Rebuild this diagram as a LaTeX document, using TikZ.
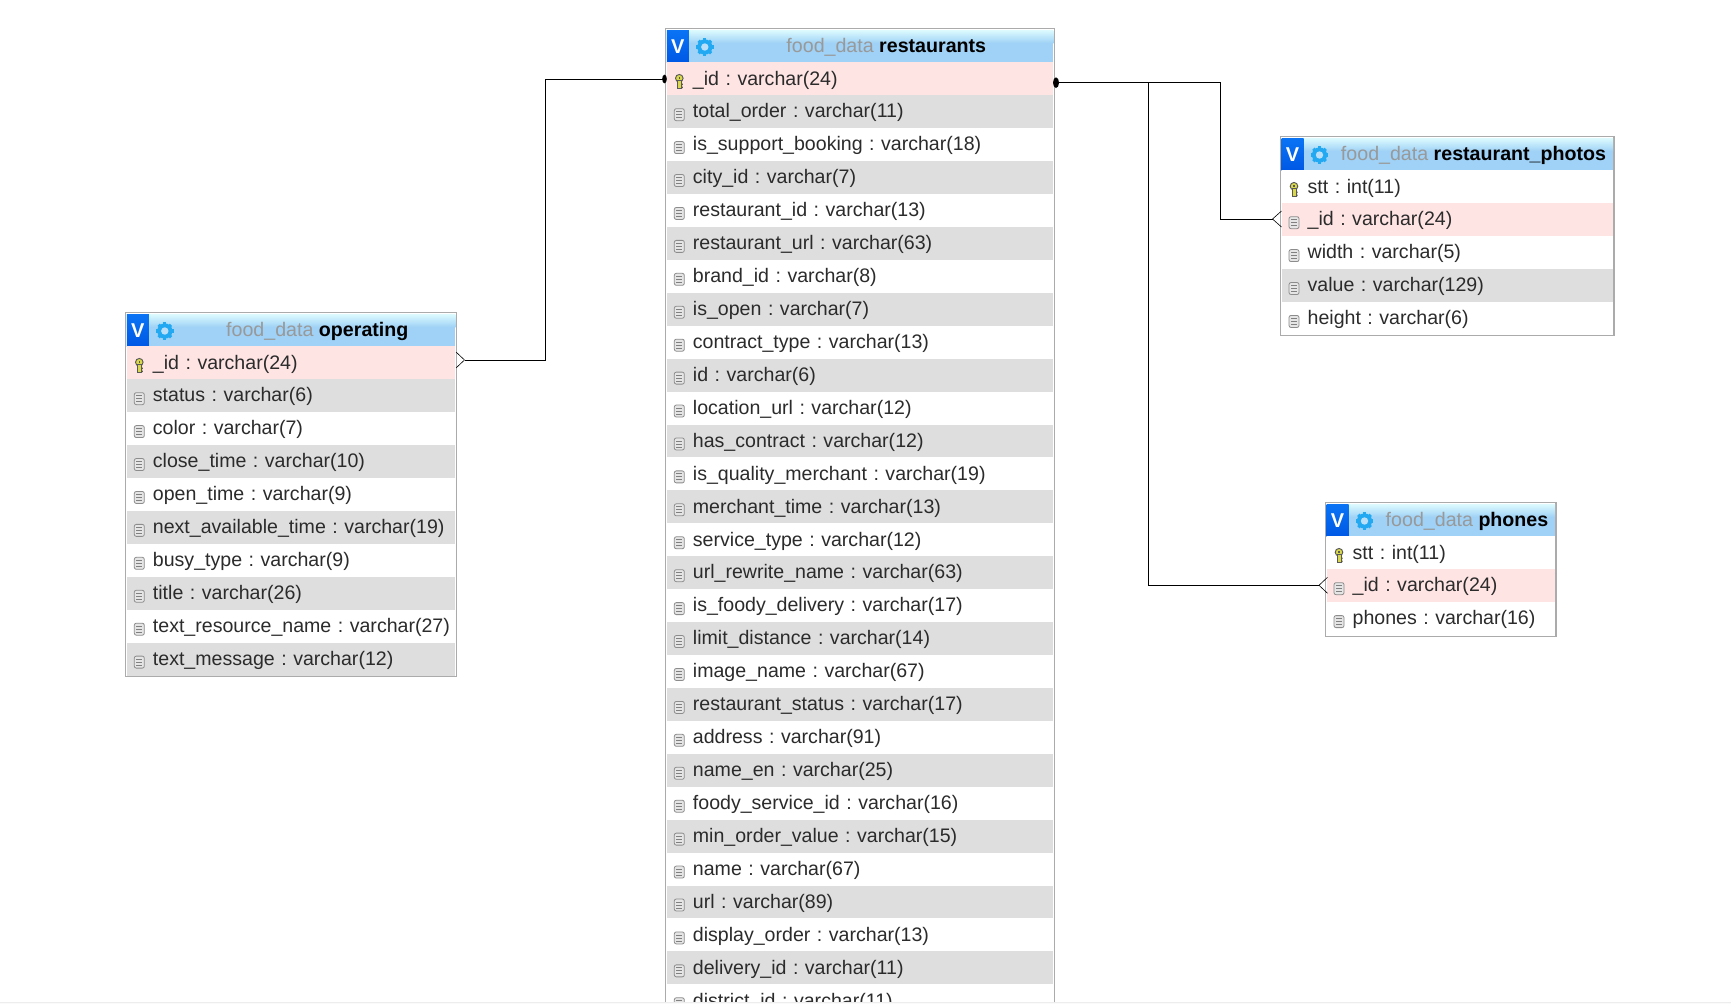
\documentclass[tikz,border=0pt]{standalone}
\usepackage{fontspec}
\setmainfont{Liberation Sans}
\usetikzlibrary{shapes.geometric}
\definecolor{headblue}{HTML}{9FD2F6}
\definecolor{headglow}{HTML}{DDFBFF}
\definecolor{vblue}{HTML}{0A74F5}
\definecolor{vdeep}{HTML}{0058E4}
\definecolor{gearblue}{HTML}{22A9F2}
\definecolor{framegray}{HTML}{ABABAB}
\definecolor{rowpink}{HTML}{FFE4E4}
\definecolor{rowgray}{HTML}{DEDEDE}
\definecolor{rowtextgray}{HTML}{2B2B2B}
\definecolor{dbgray}{HTML}{999999}
\definecolor{keyyellow}{HTML}{D8D84A}
\tikzset{
  tablerow/.style={rectangle,anchor=north west,inner sep=0pt,minimum height=24.7pt,
    text height=13.8pt,text depth=4.4pt,align=left,text=rowtextgray,
    font=\fontsize{14.68pt}{17pt}\selectfont\frenchspacing,execute at begin node={\hspace*{19.4pt}}},
  whiterow/.style={tablerow,fill=white},
  grayrow/.style={tablerow,fill=rowgray},
  pinkrow/.style={tablerow,fill=rowpink},
  tableframe/.style={draw=framegray,line width=0.8pt},
  tabletitle/.style={anchor=base,inner sep=0pt,font=\fontsize{14.72pt}{17pt}\selectfont\frenchspacing},
  vmark/.style={inner sep=0pt,text=white,font=\fontsize{15pt}{17pt}\selectfont\bfseries},
  linkdot/.style={ellipse,fill=black,inner sep=0pt,minimum width=3.5pt,minimum height=6.5pt},
  link/.style={line width=0.7pt,black},
  crowfoot/.style={line width=0.45pt,black},
  colicon/.pic={
    \draw[gray!90,fill=black!10,rounded corners=1.5,line width=0.6pt] (-5,-6) rectangle (5,6);
    \foreach \ly in {-3,0,3} \draw[gray,line width=0.6pt] (-3,\ly) -- (3,\ly);
  },
  keyicon/.pic={
    \draw[black!65,fill=keyyellow,line width=0.7pt] (0,-3.5) circle (3.8);
    \draw[black!65,fill=keyyellow,line width=0.7pt] (-2,-1) rectangle (2,6.5);
    \fill[black!65] (-0.8,-4.5) rectangle (0.8,-3);
    \fill[black!65] (2,2) rectangle (3.6,3.5) (2,4.8) rectangle (3.6,6.3);
  },
  gearicon/.pic={
    \foreach \ga in {0,45,...,315} \draw[gearblue,line width=2.4pt] (0,0) -- (\ga:8.8);
    \fill[gearblue] (0,0) circle (7.6);
    \fill[headblue!70!white] (0,0) circle (3.7);
  }
}
\begin{document}
\begin{tikzpicture}[x=0.75pt,y=-0.75pt]
\useasboundingbox (0,0) rectangle (1731,1003);
\clip (0,0) rectangle (1731,1003);
% restaurants
\begin{scope}[shift={(666.8,30)},tablerow/.append style={text width=289.5pt}]
\draw[tableframe] (-1,-1.5) rectangle (387.5,1020);
\fill[headblue] (0,0) rectangle (386.5,32);
\shade[top color=headglow,bottom color=headblue] (0,0) rectangle (386.5,13);
\shade[top color=vblue,bottom color=vdeep] (0,0) rectangle (22,32);
\node[vmark] (restaurants-v) at (11,16.5) {V};
\pic at (38,17) {gearicon};
\node[tabletitle] (restaurants-title) at (219.5,22.3) {{\color{dbgray}food\_data} \textbf{restaurants}};
\foreach \rowfill/\rowicon/\rowtext [count=\i] in {
  pinkrow/keyicon/\_id : varchar(24),
  grayrow/colicon/total\_order : varchar(11),
  whiterow/colicon/is\_support\_booking : varchar(18),
  grayrow/colicon/city\_id : varchar(7),
  whiterow/colicon/restaurant\_id : varchar(13),
  grayrow/colicon/restaurant\_url : varchar(63),
  whiterow/colicon/brand\_id : varchar(8),
  grayrow/colicon/is\_open : varchar(7),
  whiterow/colicon/contract\_type : varchar(13),
  grayrow/colicon/id : varchar(6),
  whiterow/colicon/location\_url : varchar(12),
  grayrow/colicon/has\_contract : varchar(12),
  whiterow/colicon/is\_quality\_merchant : varchar(19),
  grayrow/colicon/merchant\_time : varchar(13),
  whiterow/colicon/service\_type : varchar(12),
  grayrow/colicon/url\_rewrite\_name : varchar(63),
  whiterow/colicon/is\_foody\_delivery : varchar(17),
  grayrow/colicon/limit\_distance : varchar(14),
  whiterow/colicon/image\_name : varchar(67),
  grayrow/colicon/restaurant\_status : varchar(17),
  whiterow/colicon/address : varchar(91),
  grayrow/colicon/name\_en : varchar(25),
  whiterow/colicon/foody\_service\_id : varchar(16),
  grayrow/colicon/min\_order\_value : varchar(15),
  whiterow/colicon/name : varchar(67),
  grayrow/colicon/url : varchar(89),
  whiterow/colicon/display\_order : varchar(13),
  grayrow/colicon/delivery\_id : varchar(11),
  whiterow/colicon/district\_id : varchar(11)} {
  \node[\rowfill] (restaurants-\i) at (0,{32+32.93*(\i-1)}) {\rowtext};
  \pic at ([shift={(12.5,3)}]restaurants-\i.west) {\rowicon};
}
\end{scope}
%
% operating
\begin{scope}[shift={(126.8,314)},tablerow/.append style={text width=246pt}]
\draw[tableframe] (-1,-1.5) rectangle (329.5,362.5);
\fill[headblue] (0,0) rectangle (328.5,32);
\shade[top color=headglow,bottom color=headblue] (0,0) rectangle (328.5,13);
\shade[top color=vblue,bottom color=vdeep] (0,0) rectangle (22,32);
\node[vmark] (operating-v) at (11,16.5) {V};
\pic at (38,17) {gearicon};
\node[tabletitle] (operating-title) at (190.5,22.3) {{\color{dbgray}food\_data} \textbf{operating}};
\foreach \rowfill/\rowicon/\rowtext [count=\i] in {
  pinkrow/keyicon/\_id : varchar(24),
  grayrow/colicon/status : varchar(6),
  whiterow/colicon/color : varchar(7),
  grayrow/colicon/close\_time : varchar(10),
  whiterow/colicon/open\_time : varchar(9),
  grayrow/colicon/next\_available\_time : varchar(19),
  whiterow/colicon/busy\_type : varchar(9),
  grayrow/colicon/title : varchar(26),
  whiterow/colicon/text\_resource\_name : varchar(27),
  grayrow/colicon/text\_message : varchar(12)} {
  \node[\rowfill] (operating-\i) at (0,{32+32.93*(\i-1)}) {\rowtext};
  \pic at ([shift={(12.5,3)}]operating-\i.west) {\rowicon};
}
\end{scope}
%
% restaurant_photos
\begin{scope}[shift={(1281.5,138)},tablerow/.append style={text width=248.25pt}]
\draw[tableframe] (-1,-1.5) rectangle (332.5,197.5);
\fill[headblue] (0,0) rectangle (331.5,32);
\shade[top color=headglow,bottom color=headblue] (0,0) rectangle (331.5,13);
\shade[top color=vblue,bottom color=vdeep] (0,0) rectangle (22,32);
\node[vmark] (photos-v) at (11,16.5) {V};
\pic at (38,17) {gearicon};
\node[tabletitle] (photos-title) at (192,22.3) {{\color{dbgray}food\_data} \textbf{restaurant\_photos}};
\foreach \rowfill/\rowicon/\rowtext [count=\i] in {
  whiterow/keyicon/stt : int(11),
  pinkrow/colicon/\_id : varchar(24),
  whiterow/colicon/width : varchar(5),
  grayrow/colicon/value : varchar(129),
  whiterow/colicon/height : varchar(6)} {
  \node[\rowfill] (photos-\i) at (0,{32+32.93*(\i-1)}) {\rowtext};
  \pic at ([shift={(12.5,3)}]photos-\i.west) {\rowicon};
}
\end{scope}
%
% phones
\begin{scope}[shift={(1326.5,504)},tablerow/.append style={text width=171pt}]
\draw[tableframe] (-1,-1.5) rectangle (229.5,132.5);
\fill[headblue] (0,0) rectangle (228.5,32);
\shade[top color=headglow,bottom color=headblue] (0,0) rectangle (228.5,13);
\shade[top color=vblue,bottom color=vdeep] (0,0) rectangle (22,32);
\node[vmark] (phones-v) at (11,16.5) {V};
\pic at (38,17) {gearicon};
\node[tabletitle] (phones-title) at (140.5,22.3) {{\color{dbgray}food\_data} \textbf{phones}};
\foreach \rowfill/\rowicon/\rowtext [count=\i] in {
  whiterow/keyicon/stt : int(11),
  pinkrow/colicon/\_id : varchar(24),
  whiterow/colicon/phones : varchar(16)} {
  \node[\rowfill] (phones-\i) at (0,{32+32.93*(\i-1)}) {\rowtext};
  \pic at ([shift={(12.5,3)}]phones-\i.west) {\rowicon};
}
\end{scope}
%
% links
\node[linkdot] (dotleft) at (664.5,79) {};
\node[linkdot,minimum width=4.5pt,minimum height=8pt] (dotright) at (1056,82.7) {};
\coordinate (footoperating) at (464.5,360);
\coordinate (footphotos) at (1272.5,219);
\coordinate (footphones) at (1319,585.3);
\draw[link] (dotleft.center) -- ++(-118.7,0) |- (footoperating);
\draw[link] (dotright.center) -- ++(164,0) |- (footphotos);
\draw[link] (dotright.center) -- ++(92,0) |- (footphones);
\draw[crowfoot] (footoperating) -- +(-8.5,-8) (footoperating) -- +(-8.5,8);
\draw[crowfoot] (footphotos) -- +(9,-8) (footphotos) -- +(9,8);
\draw[crowfoot] (footphones) -- +(8.5,-8) (footphones) -- +(8.5,8);
%
% lower edge of the screenshot
\fill[black!7] (0,1001.5) rectangle (1731,1002.5);
\fill[black!2] (0,1002.5) rectangle (1731,1003);
\end{tikzpicture}
\end{document}
